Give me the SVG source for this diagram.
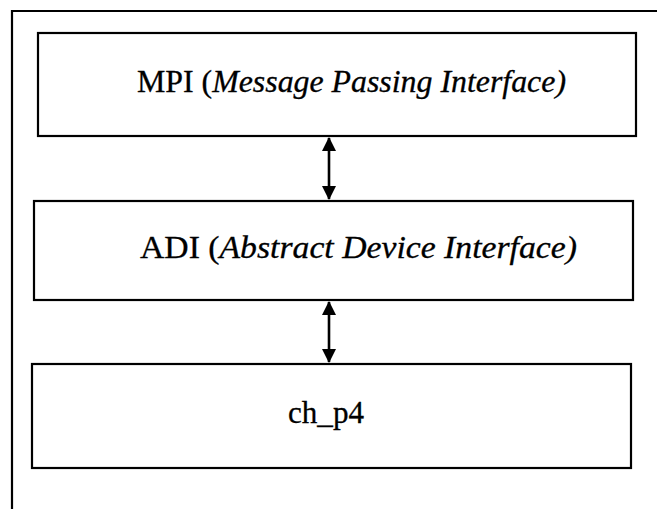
<svg xmlns="http://www.w3.org/2000/svg" width="657" height="509" viewBox="0 0 657 509">
  <style>
    .frame { fill: none; stroke: #000; stroke-width: 2.2; }
    .box { fill: #fff; stroke: #000; stroke-width: 2.2; }
    .label { font-family: "Liberation Serif", "Times New Roman", serif; font-size: 31px; fill: #000; stroke: #000; stroke-width: 0.3; }
    .it { font-style: italic; }
    .link { stroke: #000; stroke-width: 2.6; fill: none; marker-start: url(#head); marker-end: url(#head); }
  </style>
  <defs>
    <marker id="head" markerUnits="userSpaceOnUse" viewBox="0 0 14 14" refX="13" refY="7" markerWidth="14" markerHeight="14" orient="auto-start-reverse">
      <path d="M0,0 L14,7 L0,14 Z" fill="#000"/>
    </marker>
  </defs>

  <rect width="657" height="509" fill="#fff"/>

  <!-- outer frame (top and left edges) -->
  <path class="frame" d="M12,509 L12,11 L657,11"/>

  <g id="mpi">
    <rect class="box" x="38" y="33" width="598" height="103"/>
    <text class="label" x="137" y="92" textLength="429" lengthAdjust="spacingAndGlyphs">MPI (<tspan class="it">Message Passing Interface)</tspan></text>
  </g>

  <g id="adi">
    <rect class="box" x="34" y="201" width="599" height="99"/>
    <text class="label" x="140" y="258" textLength="437" lengthAdjust="spacingAndGlyphs">ADI (<tspan class="it">Abstract Device Interface)</tspan></text>
  </g>

  <g id="ch_p4">
    <rect class="box" x="32" y="364" width="599" height="104"/>
    <text class="label" x="288" y="423" textLength="76" lengthAdjust="spacingAndGlyphs">ch_p4</text>
  </g>

  <g id="connectors">
    <line class="link" x1="329" y1="138" x2="329" y2="199"/>
    <line class="link" x1="329" y1="302" x2="329" y2="362"/>
  </g>
</svg>
